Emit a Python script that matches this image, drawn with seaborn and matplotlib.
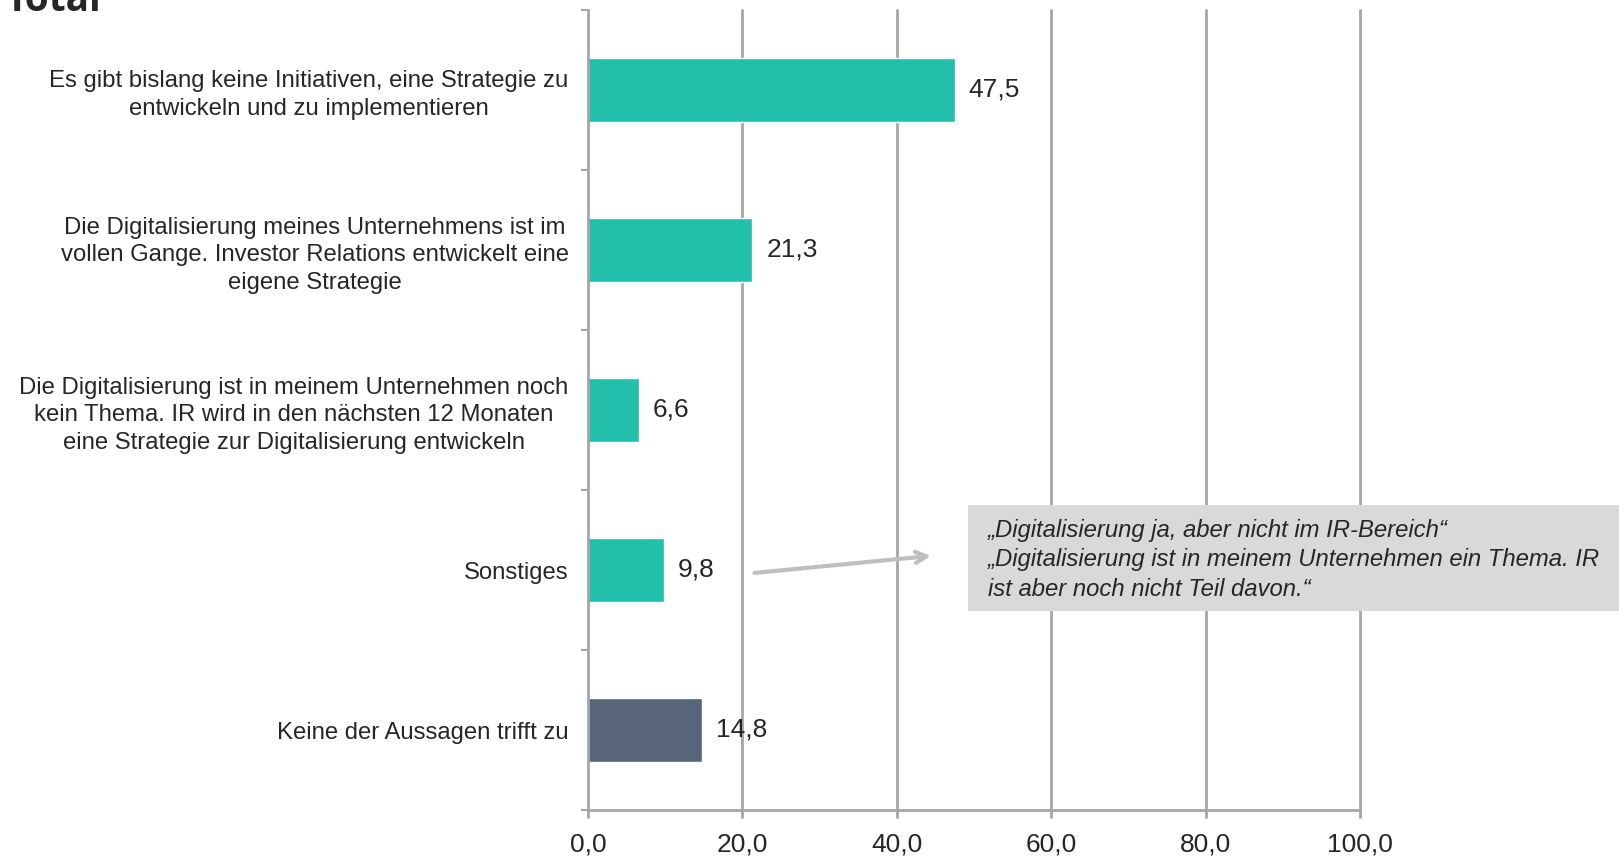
import numpy as np
import matplotlib
matplotlib.use("Agg")
import matplotlib.pyplot as plt
import seaborn as sns
import pandas as pd
from matplotlib.patches import Rectangle
from matplotlib.ticker import FixedLocator

# data
categories = [
    "Es gibt bislang keine Initiativen, eine Strategie zu\nentwickeln und zu implementieren",
    "Die Digitalisierung meines Unternehmens ist im\nvollen Gange. Investor Relations entwickelt eine\neigene Strategie",
    "Die Digitalisierung ist in meinem Unternehmen noch\nkein Thema. IR wird in den nächsten 12 Monaten\neine Strategie zur Digitalisierung entwickeln",
    "Sonstiges",
    "Keine der Aussagen trifft zu",
]
values = [47.5, 21.3, 6.6, 9.8, 14.8]
bar_colors = ["#22BFAA", "#22BFAA", "#22BFAA", "#22BFAA", "#586578"]
x_ticks = [0, 20, 40, 60, 80, 100]
x_ticklabels = ["0,0", "20,0", "40,0", "60,0", "80,0", "100,0"]
title = "Total"
note = ("\u201eDigitalisierung ja, aber nicht im IR-Bereich\u201c\n"
        "\u201eDigitalisierung ist in meinem Unternehmen ein Thema. IR\n"
        "ist aber noch nicht Teil davon.\u201c")

sns.set_style("white")
plt.rcParams['font.family'] = ['Liberation Sans', 'DejaVu Sans']

df = pd.DataFrame({"cat": categories, "val": values})

fig = plt.figure(figsize=(16.19, 8.56), dpi=100)
ax = fig.add_axes([588 / 1619, 46 / 856, 772 / 1619, 800 / 856])

sns.barplot(data=df, y="cat", x="val", hue="cat", palette=bar_colors,
            orient="h", width=0.4, legend=False, ax=ax, saturation=1, zorder=3)

ax.set_xlim(0, 100)
ax.set_ylim(4.5, -0.5)
ax.set_xlabel("")
ax.set_ylabel("")

# vertical grid
for xv in x_ticks[1:]:
    ax.axvline(xv, color="#A6A6A6", lw=2, zorder=1, clip_on=False)

ax.set_xticks(x_ticks)
ax.set_xticklabels(x_ticklabels, fontsize=19)
ax.tick_params(axis="x", length=6, width=2, color="#A6A6A6", pad=10, direction="out",
               bottom=True)

ax.set_yticks(range(len(categories)))
ax.set_yticklabels(categories, fontsize=17.2, multialignment="center", linespacing=1.33)
ax.tick_params(axis="y", which="major", length=0, pad=14)
ax.yaxis.set_minor_locator(FixedLocator(np.arange(-0.5, 5, 1)))
ax.tick_params(axis="y", which="minor", length=5, width=1.5, color="#A6A6A6",
               direction="out", left=True)

for s in ["top", "right"]:
    ax.spines[s].set_visible(False)
for s in ["left", "bottom"]:
    ax.spines[s].set_color("#A6A6A6")
    ax.spines[s].set_linewidth(2)
    ax.spines[s].set_zorder(4)

# value labels
for cont in ax.containers:
    ax.bar_label(cont, labels=[f"{v:.1f}".replace(".", ",") for v in cont.datavalues],
                 padding=10, fontsize=19, zorder=5)

# annotation box + arrow
fig.patches.append(Rectangle((968 / 1619, 1 - 611 / 856), 651 / 1619, 106 / 856,
                             transform=fig.transFigure, facecolor="#D9D9D9",
                             edgecolor="none", zorder=5))
fig.text(988 / 1619, 1 - 519 / 856, note, fontsize=17.2, style="italic",
         va="top", ha="left", linespacing=1.36, zorder=6)
ax.annotate("", xy=(44.8, 2.91), xytext=(21.2, 3.02),
            arrowprops=dict(arrowstyle="->,head_length=0.8,head_width=0.4",
                            color="#BFBFBF", lw=3), zorder=6)

fig.text(5 / 1619, 1 - 11 / 856, title, fontsize=28, fontweight="bold",
         family=['Open Sans', 'DejaVu Sans'], va="baseline", ha="left")

fig.savefig("out.png", dpi=100)
